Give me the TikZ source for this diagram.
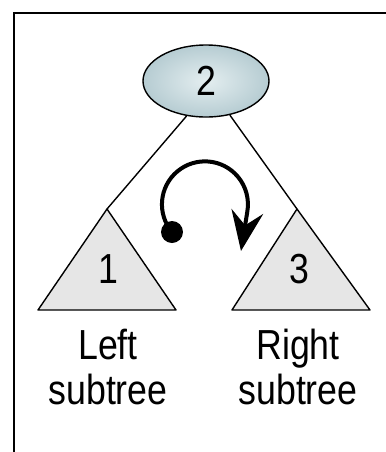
\documentclass[tikz,border=0pt]{standalone}
\usepackage{fontspec}
\setmainfont[FakeStretch=0.85]{Liberation Sans}
\usetikzlibrary{arrows.meta,positioning,shapes}

\definecolor{rootin}{RGB}{228,238,240}
\definecolor{rootout}{RGB}{182,204,210}
\definecolor{subfill}{RGB}{230,230,230}

\begin{document}
\begin{tikzpicture}[
  x=0.5pt, y=-0.5pt,
  root/.style={ellipse, draw, line width=0.7pt, inner color=rootin, outer color=rootout, minimum width=63pt, minimum height=36pt, font=\fontsize{21}{22}\selectfont},
  subtree/.style={draw, line width=0.7pt, fill=subfill, line join=round},
  edge/.style={draw, line width=0.7pt},
  digit/.style={font=\fontsize{21}{22}\selectfont},
  caption/.style={align=center, font=\fontsize{21}{22.5}\selectfont},
  dot/.style={circle, fill, inner sep=0pt, minimum size=11pt},
  turn/.style={draw, line width=2pt, -{Stealth[length=20pt, width=16pt, inset=7pt]}},
  frame/.style={draw, line width=1.2pt}
]
\useasboundingbox (0,0) rectangle (386,452);

% border (cut off at right and bottom)
\path[frame] (14,452) -- (14,13) -- (386,13);

% subtrees
\coordinate (apex1) at (107,209);
\coordinate (apex3) at (297,209);
\coordinate (base1) at (108,310);
\coordinate (base3) at (298,310);
\path[subtree] (apex1) -- (176,310) -- (38,310) -- cycle;
\path[subtree] (apex3) -- (370,310) -- (232,310) -- cycle;
\node[digit] (one) at (108,269) {1};
\node[digit] (three) at (299,269) {3};

% root
\node[root] (n2) at (206,81) {2};
\path[edge] (n2.241) -- (apex1);
\path[edge] (n2.305) -- (apex3);

% captions
\node[caption, below=6pt of base1] (capl) {Left\\subtree};
\node[caption, below=6pt of base3] (capr) {Right\\subtree};

% in-order turn
\node[dot] (dot) at (172,232) {};
\coordinate (tip) at (241,251);
\path[turn] (dot.center) arc[start angle=140, end angle=370, radius=43] -- (tip);

\end{tikzpicture}
\end{document}
